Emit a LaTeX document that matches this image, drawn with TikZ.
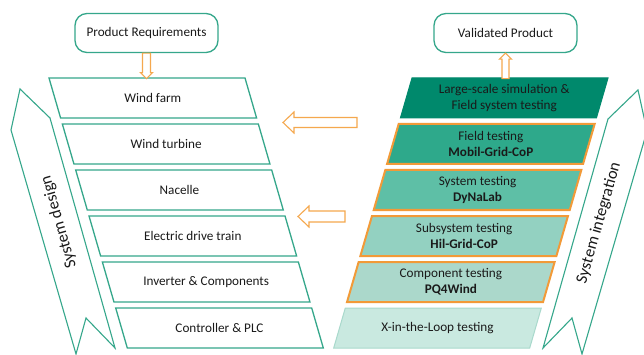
\documentclass[tikz,border=0pt]{standalone}
\usepackage{fontspec}
\setmainfont{Carlito}
\usetikzlibrary{calc}
\definecolor{gline}{HTML}{35A78B}
\definecolor{orng}{HTML}{F29A38}
\definecolor{orlt}{HTML}{F5A84E}
\definecolor{cA}{HTML}{00896C}
\definecolor{cB}{HTML}{2EA98B}
\definecolor{cC}{HTML}{5EBFA6}
\definecolor{cD}{HTML}{93D1C1}
\definecolor{cE}{HTML}{ABD8CB}
\definecolor{cF}{HTML}{C9E9E0}
\definecolor{cFl}{HTML}{A9D9CC}
\definecolor{ink}{HTML}{1A1A1A}
\tikzset{
  lbox/.style={draw=gline, line width=1.3pt, fill=white, line join=miter},
  rbox/.style={draw=orng, line width=2pt, line join=miter},
  txt/.style={font=\fontsize{13.2}{16}\selectfont, align=center, text=ink, inner sep=0pt},
  bantxt/.style={font=\fontsize{16.5}{18}\selectfont, text=ink, inner sep=0pt},
  roundbox/.style={draw=gline, line width=1.3pt, rounded corners=12pt, fill=white,
    minimum width=143pt, minimum height=39pt, font=\fontsize{13.2}{16}\selectfont, text=ink},
  barrow/.style={draw=orlt, line width=1.1pt, fill=white, line join=miter},
  banner/.style={draw=gline, line width=1.1pt, fill=white, line join=miter}
}
\newcommand\lpgram[3]{%
  \pgfmathsetmacro\ty{78+46*#2}%
  \pgfmathsetmacro\xa{49+13.34*#2}%
  \draw[lbox] (\xa,\ty) -- ++(196,0) -- ++(11.6,40) -- ++(-196,0) -- cycle;
  \node[txt] (#1) at (\xa+103.8,\ty+20) {#3};
}
\newcommand\rpgram[4]{%
  \pgfmathsetmacro\ty{78+46*#3}%
  \pgfmathsetmacro\xb{608-13.34*#3}%
  \draw[#1] (\xb,\ty) -- ++(-196,0) -- ++(-11.6,40) -- ++(196,0) -- cycle;
  \node[txt] (#2) at (\xb-103.8,\ty+20) {#4};
}
\begin{document}
\begin{tikzpicture}[x=1pt,y=-1pt]
\useasboundingbox (0,0) rectangle (644,355);
\clip (0,0) rectangle (644,355);
\fill[white] (0,0) rectangle (644,355);

% banners
\draw[banner] (20,89) -- (50,118) -- (115,348) -- (86,318) -- (76,354) -- (11,130) -- cycle;
\node[bantxt, rotate=106] (sd) at (59,222) {System design};
\draw[banner] (638,90) -- (647,131) -- (582,354) -- (572,318) -- (543,348) -- (608,119) -- cycle;
\node[bantxt, rotate=74] (si) at (599,223) {System integration};

% top boxes
\node[roundbox] (pr) at (146.5,33) {Product Requirements};
\node[roundbox] (vp) at (505.5,33) {Validated Product};

% left stack
\lpgram{wf}{0}{Wind farm}
\lpgram{wt}{1}{Wind turbine}
\lpgram{nc}{2}{Nacelle}
\lpgram{ed}{3}{Electric drive train}
\lpgram{ic}{4}{Inverter \& Components}
\lpgram{cp}{5}{Controller \& PLC}

% right stack
\rpgram{draw=cA, fill=cA, line width=1pt}{ls}{0}{Large-scale simulation \&\\Field system testing}
\rpgram{rbox, fill=cB}{ft}{1}{Field testing\\\textbf{Mobil-Grid-CoP}}
\rpgram{rbox, fill=cC}{st}{2}{System testing\\\textbf{DyNaLab}}
\rpgram{rbox, fill=cD}{sst}{3}{Subsystem testing\\\textbf{Hil-Grid-CoP}}
\rpgram{rbox, fill=cE}{ct}{4}{Component testing\\\textbf{PQ4Wind}}
\rpgram{draw=cFl, fill=cF, line width=1pt}{xl}{5}{X-in-the-Loop testing}

% block arrows
\draw[barrow] (pr.south) ++(-4,0) -- ++(8,0) -- ++(0,19.5) -- ++(2,0) -- ++(-6,6) -- ++(-6,-6) -- ++(2,0) -- cycle;
\draw[barrow] (vp.south) -- ++(6,6) -- ++(-2.5,0) -- ++(0,19.5) -- ++(-7,0) -- ++(0,-19.5) -- ++(-2.5,0) -- cycle;
\coordinate (la1) at (283,122.5);
\draw[barrow] (la1) -- ++(11,-10.5) -- ++(0,5.5) -- ++(63,0) -- ++(0,10) -- ++(-63,0) -- ++(0,5.5) -- cycle;
\coordinate (la2) at (298,216.5);
\draw[barrow] (la2) -- ++(11,-10.5) -- ++(0,5) -- ++(36,0) -- ++(0,11) -- ++(-36,0) -- ++(0,5) -- cycle;
\end{tikzpicture}
\end{document}
